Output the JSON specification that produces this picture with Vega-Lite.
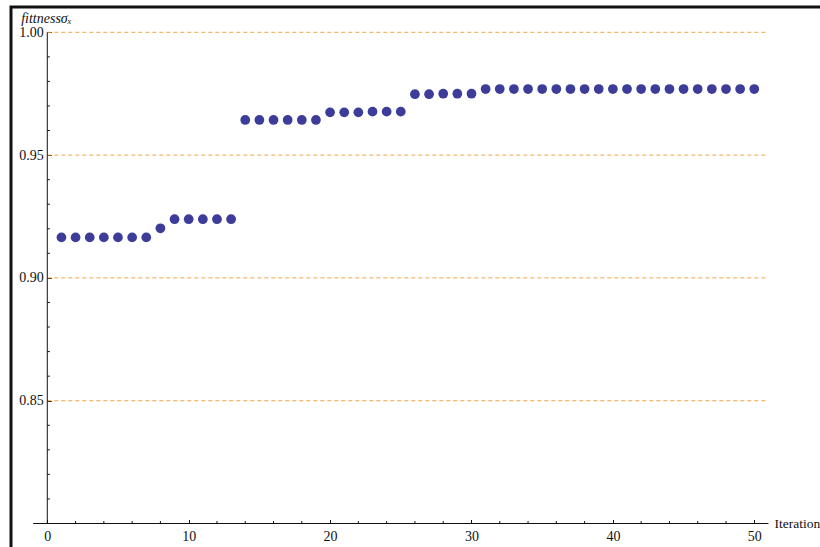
{
  "$schema": "https://vega.github.io/schema/vega-lite/v6.json",
  "width": 811,
  "height": 545,
  "autosize": {"type": "none"},
  "padding": {"left": 11, "top": 7, "right": 0, "bottom": 0},
  "background": "white",
  "config": {
    "view": {"stroke": "#111111", "strokeWidth": 3},
    "font": "'Liberation Serif', 'DejaVu Serif', serif",
    "axis": {
      "labelOverlap": false,
      "labelFont": "'Liberation Serif', 'DejaVu Serif', serif",
      "titleFont": "'Liberation Serif', 'DejaVu Serif', serif"
    }
  },
  "datasets": {
    "fitness": [
      {"iteration": 1, "fitness": 0.9165}, {"iteration": 2, "fitness": 0.9165},
      {"iteration": 3, "fitness": 0.9165}, {"iteration": 4, "fitness": 0.9165},
      {"iteration": 5, "fitness": 0.9165}, {"iteration": 6, "fitness": 0.9165},
      {"iteration": 7, "fitness": 0.9165}, {"iteration": 8, "fitness": 0.9202},
      {"iteration": 9, "fitness": 0.9239}, {"iteration": 10, "fitness": 0.9239},
      {"iteration": 11, "fitness": 0.9239}, {"iteration": 12, "fitness": 0.9239},
      {"iteration": 13, "fitness": 0.9239}, {"iteration": 14, "fitness": 0.9643},
      {"iteration": 15, "fitness": 0.9643}, {"iteration": 16, "fitness": 0.9643},
      {"iteration": 17, "fitness": 0.9643}, {"iteration": 18, "fitness": 0.9643},
      {"iteration": 19, "fitness": 0.9643}, {"iteration": 20, "fitness": 0.9674},
      {"iteration": 21, "fitness": 0.9674}, {"iteration": 22, "fitness": 0.9674},
      {"iteration": 23, "fitness": 0.9677}, {"iteration": 24, "fitness": 0.9677},
      {"iteration": 25, "fitness": 0.9677}, {"iteration": 26, "fitness": 0.9748},
      {"iteration": 27, "fitness": 0.9748}, {"iteration": 28, "fitness": 0.975},
      {"iteration": 29, "fitness": 0.975}, {"iteration": 30, "fitness": 0.975},
      {"iteration": 31, "fitness": 0.9769}, {"iteration": 32, "fitness": 0.9769},
      {"iteration": 33, "fitness": 0.9769}, {"iteration": 34, "fitness": 0.9769},
      {"iteration": 35, "fitness": 0.9769}, {"iteration": 36, "fitness": 0.9769},
      {"iteration": 37, "fitness": 0.9769}, {"iteration": 38, "fitness": 0.9769},
      {"iteration": 39, "fitness": 0.9769}, {"iteration": 40, "fitness": 0.9769},
      {"iteration": 41, "fitness": 0.9769}, {"iteration": 42, "fitness": 0.9769},
      {"iteration": 43, "fitness": 0.9769}, {"iteration": 44, "fitness": 0.9769},
      {"iteration": 45, "fitness": 0.9769}, {"iteration": 46, "fitness": 0.9769},
      {"iteration": 47, "fitness": 0.9769}, {"iteration": 48, "fitness": 0.9769},
      {"iteration": 49, "fitness": 0.9769}, {"iteration": 50, "fitness": 0.9769}
    ],
    "gridlines": [
      {"level": 0.85}, {"level": 0.9}, {"level": 0.95}, {"level": 1.0}
    ],
    "xMinorTicks": [
      {"at": 2}, {"at": 4}, {"at": 6}, {"at": 8},
      {"at": 12}, {"at": 14}, {"at": 16}, {"at": 18},
      {"at": 22}, {"at": 24}, {"at": 26}, {"at": 28},
      {"at": 32}, {"at": 34}, {"at": 36}, {"at": 38},
      {"at": 42}, {"at": 44}, {"at": 46}, {"at": 48}
    ],
    "yMinorTicks": [
      {"at": 0.81}, {"at": 0.82}, {"at": 0.83}, {"at": 0.84},
      {"at": 0.86}, {"at": 0.87}, {"at": 0.88}, {"at": 0.89},
      {"at": 0.91}, {"at": 0.92}, {"at": 0.93}, {"at": 0.94},
      {"at": 0.96}, {"at": 0.97}, {"at": 0.98}, {"at": 0.99}
    ]
  },
  "layer": [
    {
      "data": {"name": "fitness"},
      "mark": {"type": "point", "filled": true, "opacity": 1, "size": 95, "color": "#3d3d99"},
      "encoding": {
        "x": {
          "field": "iteration",
          "type": "quantitative",
          "scale": {"domain": [-2.567, 54.79], "nice": false, "zero": false},
          "axis": {
            "orient": "bottom",
            "offset": -28.5,
            "domain": false,
            "grid": false,
            "values": [0, 10, 20, 30, 40, 50],
            "tickSize": -4,
            "tickColor": "#111111",
            "tickWidth": 1,
            "format": "d",
            "labelFont": "'Liberation Serif', 'DejaVu Serif', serif",
            "labelFontSize": 14,
            "labelColor": "#111111",
            "labelPadding": 9.5,
            "labelFlush": false,
            "labelOverlap": false,
            "title": "Iteration",
            "titleFont": "'Liberation Serif', 'DejaVu Serif', serif",
            "titleX": 763,
            "titleY": 0,
            "titleAlign": "left",
            "titleBaseline": "middle",
            "titleFontSize": 13.5,
            "titleFontWeight": "normal",
            "titleColor": "#111111"
          }
        },
        "y": {
          "field": "fitness",
          "type": "quantitative",
          "scale": {"domain": [0.7884, 1.0103], "nice": false, "zero": false},
          "axis": {
            "orient": "left",
            "offset": -36.3,
            "domain": false,
            "grid": false,
            "values": [0.85, 0.9, 0.95, 1.0],
            "tickSize": -4,
            "tickColor": "#111111",
            "tickWidth": 1,
            "format": ".2f",
            "labelFont": "'Liberation Serif', 'DejaVu Serif', serif",
            "labelFontSize": 14,
            "labelColor": "#111111",
            "labelPadding": 8,
            "labelFlush": false,
            "labelOverlap": false,
            "title": "fittnessσₓ",
            "titleFont": "'Liberation Serif', 'DejaVu Serif', serif",
            "titleAngle": 0,
            "titleX": -26.6,
            "titleY": 11,
            "titleAlign": "left",
            "titleBaseline": "middle",
            "titleFontSize": 14,
            "titleFontStyle": "italic",
            "titleFontWeight": "normal",
            "titleColor": "#111111"
          }
        }
      }
    },
    {
      "data": {"name": "gridlines"},
      "mark": {"type": "rule", "color": "#f5a345", "strokeWidth": 1, "strokeDash": [4, 3]},
      "encoding": {
        "y": {"field": "level", "type": "quantitative"},
        "x": {"datum": 0},
        "x2": {"datum": 51}
      }
    },
    {
      "data": {"values": [{}]},
      "mark": {"type": "rule", "color": "#111111", "strokeWidth": 1},
      "encoding": {
        "x": {"datum": 0},
        "y": {"datum": 0.8},
        "y2": {"datum": 1.0}
      }
    },
    {
      "data": {"values": [{}]},
      "mark": {"type": "rule", "color": "#111111", "strokeWidth": 1},
      "encoding": {
        "y": {"datum": 0.8},
        "x": {"datum": -1},
        "x2": {"datum": 51}
      }
    },
    {
      "data": {"name": "xMinorTicks"},
      "mark": {"type": "rule", "color": "#111111", "strokeWidth": 1},
      "encoding": {
        "x": {"field": "at", "type": "quantitative"},
        "y": {"datum": 0.8},
        "y2": {"datum": 0.801}
      }
    },
    {
      "data": {"name": "yMinorTicks"},
      "mark": {"type": "rule", "color": "#111111", "strokeWidth": 1},
      "encoding": {
        "y": {"field": "at", "type": "quantitative"},
        "x": {"datum": 0},
        "x2": {"datum": 0.18}
      }
    }
  ]
}
